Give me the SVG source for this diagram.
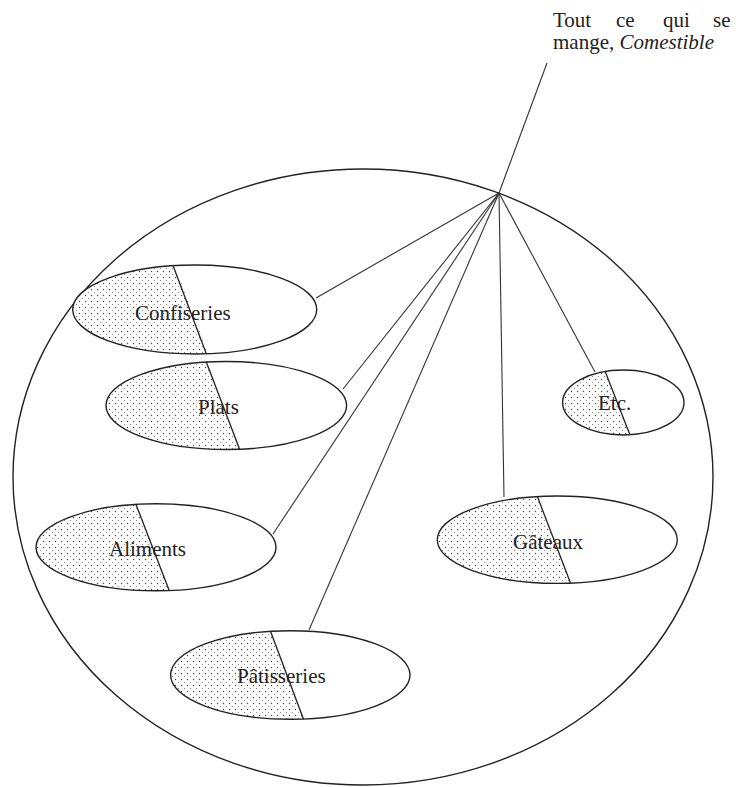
<svg xmlns="http://www.w3.org/2000/svg" width="736" height="787" viewBox="0 0 736 787">
<style>
  .outline { fill: none; stroke: #222; stroke-width: 1.4; }
  .conn { stroke: #333; stroke-width: 1.1; fill: none; }
  .div { stroke: #222; stroke-width: 1.3; }
  .lbl { font-family: "Liberation Serif", "Times New Roman", serif; font-size: 21px; fill: #222; }
  .dots { fill: url(#dotPat); stroke: none; }
</style>
<defs>
  <pattern id="dotPat" patternUnits="userSpaceOnUse" width="6" height="6">
    <rect width="6" height="6" fill="#fff"/>
    <circle cx="1.5" cy="1.5" r="0.7" fill="#444"/>
    <circle cx="4.5" cy="4.5" r="0.6" fill="#777"/>
  </pattern>
  <clipPath id="leftPart" clipPathUnits="objectBoundingBox">
    <polygon points="0,0 0.417,0 0.555,1 0,1"/>
  </clipPath>
  <clipPath id="leftPartEtc" clipPathUnits="objectBoundingBox">
    <polygon points="0,0 0.349,0 0.555,1 0,1"/>
  </clipPath>
</defs>
<rect width="736" height="787" fill="#fff"/>

<g id="universe">
  <ellipse class="outline" cx="363" cy="477" rx="350" ry="308"/>
</g>

<g id="connectors">
  <line class="conn" x1="499" y1="193" x2="547" y2="63"/>
  <line class="conn" x1="499" y1="193" x2="316" y2="298"/>
  <line class="conn" x1="499" y1="193" x2="343" y2="389"/>
  <line class="conn" x1="499" y1="193" x2="273" y2="534"/>
  <line class="conn" x1="499" y1="193" x2="309" y2="630"/>
  <line class="conn" x1="499" y1="193" x2="504" y2="497"/>
  <line class="conn" x1="499" y1="193" x2="595" y2="372"/>
</g>

<g id="title">
  <text class="lbl" y="27"><tspan x="553">Tout</tspan><tspan x="616">ce</tspan><tspan x="663">qui</tspan><tspan x="713">se</tspan></text>
  <text class="lbl" x="553" y="49">mange, <tspan font-style="italic">Comestible</tspan></text>
</g>

<g id="confiseries">
  <ellipse cx="194.7" cy="309.5" rx="122" ry="44.5" fill="#fff"/>
  <ellipse class="dots" cx="194.7" cy="309.5" rx="122" ry="44.5" clip-path="url(#leftPart)"/>
  <ellipse class="outline" cx="194.7" cy="309.5" rx="122" ry="44.5"/>
  <line class="div" x1="173" y1="265.5" x2="206.3" y2="353.7"/>
  <text class="lbl" x="135" y="320">Confiseries</text>
</g>

<g id="plats">
  <ellipse cx="226.3" cy="405.5" rx="120.3" ry="44" fill="#fff"/>
  <ellipse class="dots" cx="226.3" cy="405.5" rx="120.3" ry="44" clip-path="url(#leftPart)"/>
  <ellipse class="outline" cx="226.3" cy="405.5" rx="120.3" ry="44"/>
  <line class="div" x1="206.3" y1="362" x2="239.6" y2="449.2"/>
  <text class="lbl" x="198" y="414">Plats</text>
</g>

<g id="aliments">
  <ellipse cx="156" cy="547.3" rx="120" ry="43.5" fill="#fff"/>
  <ellipse class="dots" cx="156" cy="547.3" rx="120" ry="43.5" clip-path="url(#leftPart)"/>
  <ellipse class="outline" cx="156" cy="547.3" rx="120" ry="43.5"/>
  <line class="div" x1="136" y1="504.4" x2="169.2" y2="590.6"/>
  <text class="lbl" x="109" y="556">Aliments</text>
</g>

<g id="gateaux">
  <ellipse cx="557.3" cy="539.7" rx="120" ry="43.7" fill="#fff"/>
  <ellipse class="dots" cx="557.3" cy="539.7" rx="120" ry="43.7" clip-path="url(#leftPart)"/>
  <ellipse class="outline" cx="557.3" cy="539.7" rx="120" ry="43.7"/>
  <line class="div" x1="537.4" y1="496.6" x2="570.5" y2="583.1"/>
  <text class="lbl" x="513" y="549">Gâteaux</text>
</g>

<g id="patisseries">
  <ellipse cx="290.3" cy="675" rx="119.7" ry="44.3" fill="#fff"/>
  <ellipse class="dots" cx="290.3" cy="675" rx="119.7" ry="44.3" clip-path="url(#leftPart)"/>
  <ellipse class="outline" cx="290.3" cy="675" rx="119.7" ry="44.3"/>
  <line class="div" x1="270.5" y1="631.3" x2="303.5" y2="719.2"/>
  <text class="lbl" x="237" y="683">Pâtisseries</text>
</g>

<g id="etc">
  <ellipse cx="623.3" cy="402.5" rx="60.7" ry="32.5" fill="#fff"/>
  <ellipse class="dots" cx="623.3" cy="402.5" rx="60.7" ry="32.5" clip-path="url(#leftPartEtc)"/>
  <ellipse class="outline" cx="623.3" cy="402.5" rx="60.7" ry="32.5"/>
  <line class="div" x1="605" y1="371" x2="630" y2="434.9"/>
  <text class="lbl" x="598" y="410">Etc.</text>
</g>
</svg>
